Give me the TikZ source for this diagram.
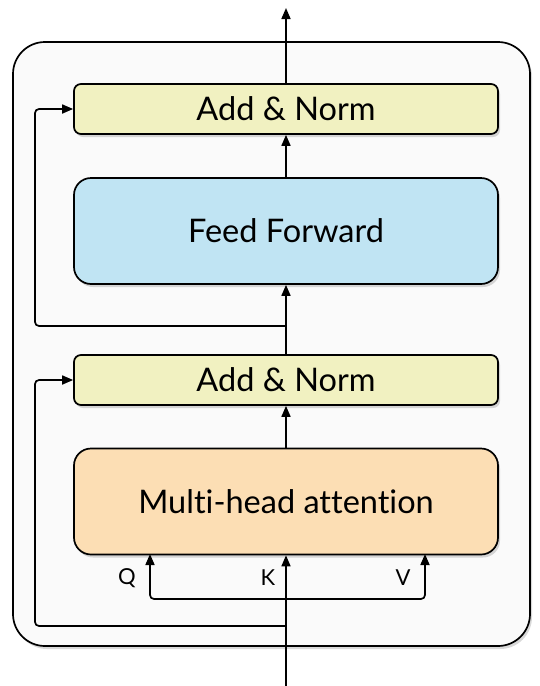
\documentclass[tikz,border=0pt]{standalone}
\usepackage{fontspec}
\setmainfont{Lato}[Ligatures=NoCommon]
\usetikzlibrary{arrows.meta,shadows,calc}
\definecolor{anfill}{HTML}{F1F1C1}
\definecolor{fffill}{HTML}{C0E4F3}
\definecolor{mhfill}{HTML}{FCDEB4}
\definecolor{outerfill}{HTML}{FAFAFA}
\begin{document}
\begin{tikzpicture}[x=1pt,y=-1pt,
  line width=1.7pt,
  arr/.style={-{Triangle[length=11pt,width=9pt]}},
  boxshadow/.style={drop shadow={shadow xshift=2pt,shadow yshift=-3pt,opacity=0.25,fill=black!60}},
  anbox/.style={draw,fill=anfill,rounded corners=7pt,minimum width=424pt,minimum height=50pt,inner sep=0pt,font=\fontsize{32.5}{36}\selectfont,boxshadow},
  bigbox/.style={draw,rounded corners=17pt,minimum width=424pt,minimum height=106pt,inner sep=0pt,font=\fontsize{32.5}{36}\selectfont,boxshadow},
  lbl/.style={font=\fontsize{22}{26}\selectfont,inner sep=0pt}]
\useasboundingbox (0,0) rectangle (540,686);
\fill[outerfill,rounded corners=32pt,drop shadow={shadow xshift=2pt,shadow yshift=-3pt,opacity=0.25,fill=black!60}] (13,42) rectangle (530,646);
\draw[rounded corners=32pt] (13,42) rectangle (530,646);
\node[anbox] (an1) at (286,109) {Add \& Norm};
\node[bigbox,fill=fffill] (ff) at (286,231) {Feed Forward};
\node[anbox] (an2) at (286,380) {Add \& Norm};
\node[bigbox,fill=mhfill] (mha) at (286,501.5) {Multi-head attention};
\coordinate (top) at (286,8);
\coordinate (bottom) at (286,686);
\coordinate (res1) at (286,326);
\coordinate (res2) at (286,626);
\coordinate (qv) at (286,599);
\coordinate (qtip) at (150,554);
\coordinate (vtip) at (425,554);
\draw[arr] (an1.north) -- (top);
\draw[arr] (ff.north) -- (an1.south);
\draw[arr] (an2.north) -- (ff.south);
\draw[arr] (mha.north) -- (an2.south);
\draw[arr] (bottom) -- (mha.south);
\draw[arr,rounded corners=4pt] (res1) -| (35,109) -- (an1.west);
\draw[arr,rounded corners=4pt] (res2) -| (35,380) -- (an2.west);
\draw[arr,rounded corners=4pt] (qv) -| (qtip);
\draw[arr,rounded corners=4pt] (qv) -| (vtip);
\node[lbl] (q) at (127,578) {Q};
\node[lbl] (k) at (268,578) {K};
\node[lbl] (v) at (403,578) {V};
\end{tikzpicture}
\end{document}
